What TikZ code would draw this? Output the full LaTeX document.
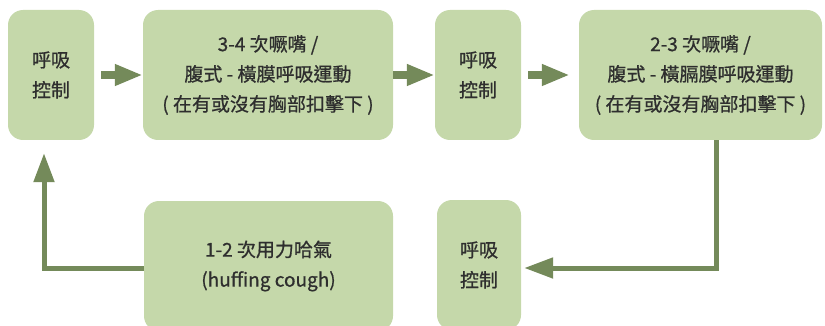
\documentclass[tikz,border=0pt]{standalone}
\usepackage{fontspec}
\setmainfont{Noto Sans CJK TC}[FakeBold=0.8]
\usepackage{xcolor}
\usetikzlibrary{arrows.meta}
\definecolor{boxgreen}{HTML}{C5D8AA}
\definecolor{arrowgreen}{HTML}{748A5A}
\definecolor{txtgray}{HTML}{2E2E2E}

\begin{document}
\begin{tikzpicture}[x=1pt, y=-1pt, font=\fontsize{19}{30}\selectfont,
  box/.style={rounded corners=15pt, fill=boxgreen, text=txtgray, align=center, inner sep=0pt, minimum height=130pt},
  fatarrow/.style={arrowgreen, line width=8pt, -{Triangle[length=28pt,width=20pt]}},
  thinarrow/.style={arrowgreen, line width=5pt, -{Triangle[length=29pt,width=20pt]}}]
  \useasboundingbox (0,0) rectangle (825,326);
  \clip (0,0) rectangle (825,326);

  % Nodes
  \draw (51,75)    node(ctrlA) [box, minimum width=86pt]  {呼吸\\控制};
  \draw (268,75)   node(pursA) [box, minimum width=250pt] {3-4 次噘嘴 /\\腹式 - 橫膜呼吸運動\\( 在有或沒有胸部扣擊下 )};
  \draw (478,75)   node(ctrlB) [box, minimum width=86pt]  {呼吸\\控制};
  \draw (700.5,75) node(pursB) [box, minimum width=243pt] {2-3 次噘嘴 /\\腹式 - 橫膈膜呼吸運動\\( 在有或沒有胸部扣擊下 )};
  \draw (268.5,266) node(huff) [box, minimum width=249pt] {1-2 次用力哈氣\\(huffing cough)};
  \draw (479,265)  node(ctrlC) [box, minimum width=84pt]  {呼吸\\控制};

  \coordinate (turnR) at (716,268);
  \coordinate (turnL) at (44,268);

  % Edges
  \draw[fatarrow, shorten <=7pt]                 (ctrlA) -- (pursA);
  \draw[fatarrow]                                (pursA) -- (ctrlB);
  \draw[fatarrow, shorten <=7pt, shorten >=9pt]  (ctrlB) -- (pursB);
  \draw[thinarrow, shorten >=3pt]  (pursB.south -| turnR) |- (ctrlC.east |- turnR);
  \draw[thinarrow, shorten >=13pt] (huff.west |- turnL) -| (ctrlA.south -| turnL);

\end{tikzpicture}
\end{document}
